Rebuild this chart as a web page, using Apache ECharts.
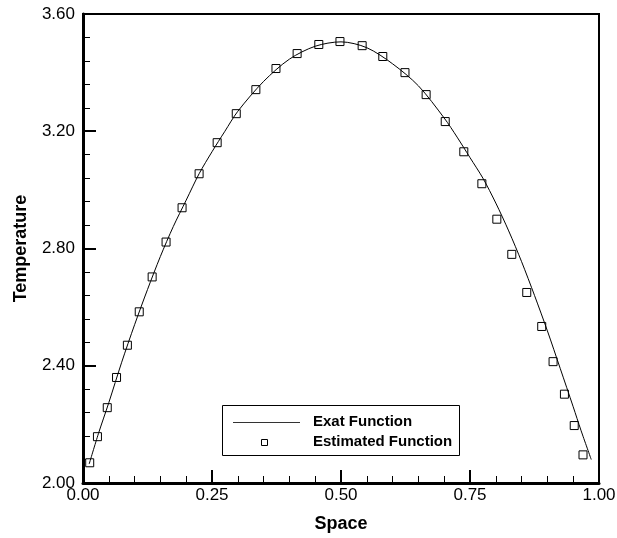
<!DOCTYPE html>
<html>
<head>
<meta charset="utf-8">
<script src="https://cdn.jsdelivr.net/npm/echarts@6/dist/echarts.min.js"></script>
<style>
  html, body { margin: 0; padding: 0; background: #fff; }
  #chart { width: 617px; height: 538px; }
</style>
</head>
<body>
<div id="chart"></div>
<script>
// exact function (line)
var exactX = [0.012, 0.03, 0.05, 0.075, 0.10, 0.125, 0.15, 0.175, 0.20, 0.225, 0.25, 0.275, 0.30, 0.35, 0.40, 0.45, 0.50,
              0.55, 0.60, 0.65, 0.70, 0.725, 0.75, 0.775, 0.80, 0.825, 0.85, 0.875, 0.90, 0.925, 0.95, 0.965, 0.985];
var exactY = [2.065, 2.169, 2.274, 2.412, 2.540, 2.660, 2.773, 2.875, 2.965, 3.055, 3.130, 3.200, 3.268, 3.370, 3.446, 3.490, 3.505,
              3.485, 3.430, 3.355, 3.245, 3.180, 3.110, 3.040, 2.955, 2.860, 2.755, 2.640, 2.519, 2.390, 2.260, 2.180, 2.080];
// estimated function (square markers)
var estX = [0.013, 0.028, 0.047, 0.065, 0.086, 0.109, 0.134, 0.161, 0.192, 0.225, 0.260, 0.297, 0.335, 0.374, 0.415, 0.457, 0.498,
            0.541, 0.581, 0.624, 0.665, 0.702, 0.738, 0.773, 0.802, 0.831, 0.860, 0.889, 0.911, 0.933, 0.952, 0.969];
var estY = [2.069, 2.158, 2.257, 2.360, 2.470, 2.584, 2.703, 2.822, 2.939, 3.055, 3.161, 3.260, 3.342, 3.414, 3.465, 3.496, 3.506,
            3.492, 3.455, 3.400, 3.325, 3.233, 3.130, 3.021, 2.900, 2.780, 2.650, 2.534, 2.414, 2.303, 2.196, 2.096];
var legendNames = ['Exat Function', 'Estimated Function'];

var FONT = 'Liberation Sans, Arial, Helvetica, sans-serif';

function pairs(xs, ys) {
  var arr = [];
  for (var i = 0; i < xs.length; i++) {
    arr.push([xs[i], ys[i]]);
  }
  return arr;
}

var myChart = echarts.init(document.getElementById('chart'), null, { renderer: 'canvas' });

var legendText = { fontFamily: FONT, fontWeight: 'bold', fontSize: 15, fill: '#000', verticalAlign: 'middle' };

var option = {
  backgroundColor: '#fff',
  animation: false,
  grid: {
    left: 83, top: 14, right: 18, bottom: 55,
    containLabel: false,
    outerBoundsMode: 'none',
    show: true,
    borderColor: '#000',
    borderWidth: 2
  },
  xAxis: {
    type: 'value',
    min: 0,
    max: 1,
    interval: 0.25,
    name: 'Space',
    nameLocation: 'middle',
    nameGap: 32,
    nameTextStyle: { fontFamily: FONT, fontWeight: 'bold', fontSize: 18, color: '#000' },
    axisLine: { show: true, onZero: false, lineStyle: { color: '#000', width: 3 } },
    axisTick: { show: true, inside: true, length: 13, lineStyle: { color: '#000', width: 2 } },
    minorTick: { show: true, splitNumber: 5, length: 7, lineStyle: { color: '#000', width: 1 } },
    splitLine: { show: false },
    axisLabel: {
      margin: 4,
      fontFamily: FONT,
      fontSize: 17,
      color: '#000',
      formatter: function (v) { return v.toFixed(2); }
    }
  },
  yAxis: {
    type: 'value',
    min: 2.0,
    max: 3.6,
    interval: 0.4,
    name: 'Temperature',
    nameLocation: 'middle',
    nameGap: 53,
    nameTextStyle: { fontFamily: FONT, fontWeight: 'bold', fontSize: 18, color: '#000' },
    axisLine: { show: true, onZero: false, lineStyle: { color: '#000', width: 3 } },
    axisTick: { show: true, inside: true, length: 13, lineStyle: { color: '#000', width: 2 } },
    minorTick: { show: true, splitNumber: 5, length: 7, lineStyle: { color: '#000', width: 1 } },
    splitLine: { show: false },
    axisLabel: {
      margin: 8,
      fontFamily: FONT,
      fontSize: 17,
      color: '#000',
      formatter: function (v) { return v.toFixed(2); }
    }
  },
  // legend box drawn by hand so the icons look like the original
  graphic: [
    { type: 'rect', z: 100, shape: { x: 222.5, y: 405.5, width: 237, height: 50 },
      style: { fill: '#fff', stroke: '#000', lineWidth: 1 } },
    { type: 'line', z: 101, shape: { x1: 233, y1: 422.5, x2: 300, y2: 422.5 },
      style: { stroke: '#333', lineWidth: 1 } },
    { type: 'rect', z: 101, shape: { x: 261.5, y: 439.5, width: 6, height: 6 },
      style: { fill: '#fff', stroke: '#000', lineWidth: 1 } },
    { type: 'text', z: 101, x: 313, y: 422, style: Object.assign({ text: legendNames[0] }, legendText) },
    { type: 'text', z: 101, x: 313, y: 442, style: Object.assign({ text: legendNames[1] }, legendText) }
  ],
  series: [
    {
      name: legendNames[0],
      type: 'line',
      smooth: 0.3,
      symbol: 'none',
      showSymbol: false,
      lineStyle: { color: '#000', width: 1 },
      itemStyle: { color: '#000' },
      data: pairs(exactX, exactY)
    },
    {
      name: legendNames[1],
      type: 'scatter',
      symbol: 'rect',
      symbolSize: 8,
      itemStyle: { color: '#fff', borderColor: '#000', borderWidth: 1, opacity: 1 },
      data: pairs(estX, estY)
    }
  ]
};

myChart.setOption(option);
</script>
</body>
</html>
